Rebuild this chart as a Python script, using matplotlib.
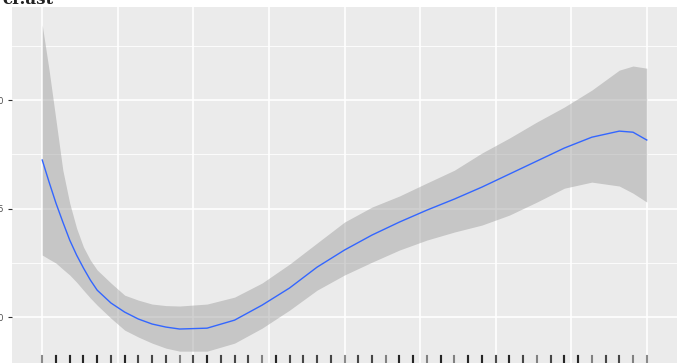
import matplotlib
matplotlib.use('Agg')
import matplotlib.pyplot as plt

# smooth fit
x_fit = [0, 0.5, 1, 1.5, 2, 2.5, 3, 3.5, 4, 5, 6, 7, 8, 9, 10, 12, 14, 16, 18, 20, 22, 24, 26, 28, 30,
         32, 34, 36, 38, 40, 42, 43, 44]
y_fit = [17.24, 16.22, 15.25, 14.38, 13.55, 12.86, 12.26, 11.71, 11.24, 10.65, 10.23, 9.91, 9.68, 9.54,
         9.45, 9.49, 9.86, 10.55, 11.34, 12.30, 13.09, 13.78, 14.38, 14.93, 15.44, 15.99, 16.59, 17.19,
         17.79, 18.29, 18.57, 18.52, 18.16]
y_hi = [23.46, 21.38, 19.08, 16.77, 15.25, 14.10, 13.23, 12.63, 12.17, 11.57, 11.01, 10.78, 10.60, 10.53,
        10.51, 10.60, 10.92, 11.57, 12.44, 13.41, 14.38, 15.07, 15.58, 16.18, 16.77, 17.56, 18.25, 18.99,
        19.68, 20.46, 21.38, 21.57, 21.47]
y_lo = [12.86, 12.67, 12.49, 12.21, 11.94, 11.61, 11.24, 10.88, 10.55, 9.95, 9.40, 9.08, 8.80, 8.57,
        8.43, 8.43, 8.80, 9.49, 10.32, 11.24, 11.94, 12.53, 13.09, 13.55, 13.92, 14.24, 14.70, 15.30,
        15.94, 16.22, 16.04, 15.71, 15.30]

# rug: observation positions and how many overlap at each
rug_x = list(range(45))
rug_n = [1, 3, 3, 3, 3, 2, 3, 2, 2, 2, 1,
         2, 3, 2, 2, 2, 1, 3, 2, 2, 2, 2,
         1, 2, 2, 1, 3, 3, 1, 3, 1, 3, 3, 2,
         3, 2, 1, 2, 3, 3, 1, 2, 2, 1, 1]

y_major = [10, 15, 20]
y_minor = [12.5, 17.5, 22.5]
x_grid = [0, 5.5, 11, 16.5, 22, 27.5, 33, 38.5, 44]

W, H = 678, 363
fig = plt.figure(figsize=(W / 100, H / 100), dpi=100)
# panel in pixel coords (left, top, right, bottom); left/bottom run past the crop
l, t, r, b = 12, 7, 677, 367
ax = fig.add_axes([l / W, 1 - b / H, (r - l) / W, (b - t) / H])
ax.set_facecolor('#EBEBEB')
for s in ax.spines.values():
    s.set_visible(False)

for v in y_minor:
    ax.axhline(v, color='white', lw=0.6, zorder=0)
for v in y_major:
    ax.axhline(v, color='white', lw=1.2, zorder=0)
for v in x_grid:
    ax.axvline(v, color='white', lw=1.2, zorder=0)

ax.fill_between(x_fit, y_lo, y_hi, color='#999999', alpha=0.45, lw=0, zorder=2)
ax.plot(x_fit, y_fit, color='#3366FF', lw=1.0, zorder=3)

for xv, n in zip(rug_x, rug_n):
    for k in range(n):
        ax.axvline(xv, ymin=0, ymax=0.03, color='black', lw=1.5, alpha=0.45, zorder=4)

ax.set_xlim(-2.2, 46.2)
ax.set_ylim(7.7, 24.29)
ax.set_yticks(y_major)
ax.set_yticklabels([str(v) for v in y_major])
ax.set_xticks([])
ax.tick_params(axis='y', length=3, width=0.8, color='#333333', pad=3,
               labelsize=6, labelcolor='#4D4D4D')

fig.text(2 / W, 1 - 4 / H, 'cr.ast', fontsize=12, family='DejaVu Serif', weight='bold',
         color='#222222', ha='left', va='baseline')

fig.savefig('out.png', dpi=100, facecolor='white')
